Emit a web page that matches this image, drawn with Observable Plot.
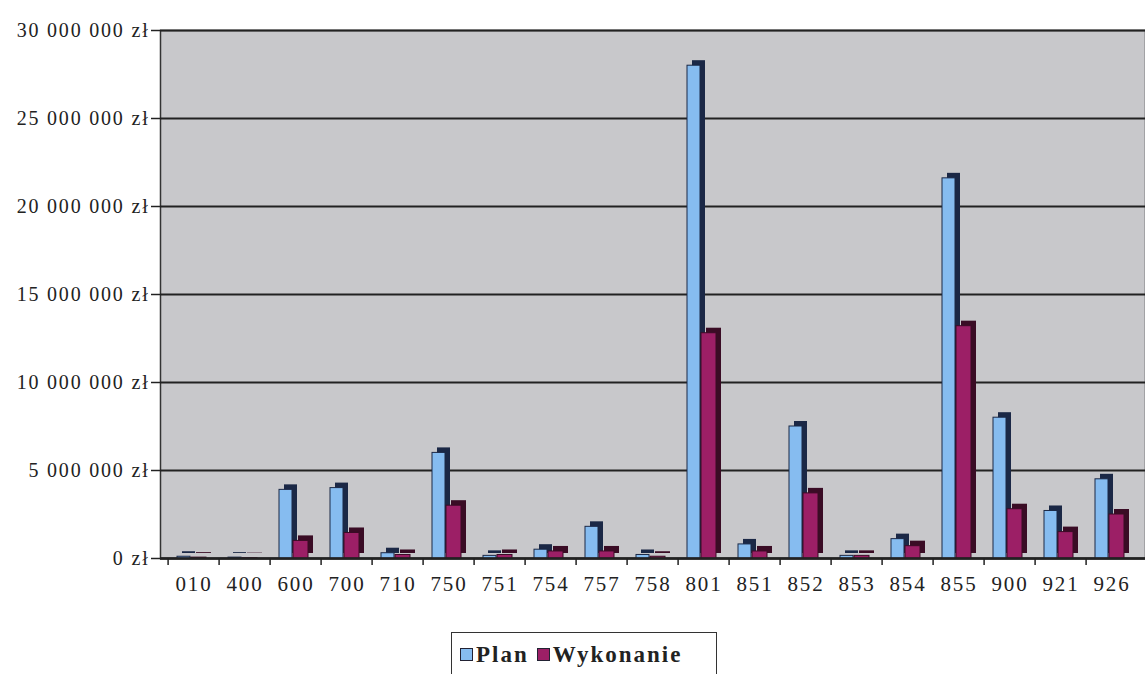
<!DOCTYPE html>
<html><head><meta charset="utf-8">
<script src="https://cdn.jsdelivr.net/npm/d3@7"></script>
<script src="https://cdn.jsdelivr.net/npm/@observablehq/plot@0.6"></script>
<style>
body{margin:0;background:#fff;font-family:"Liberation Serif",serif;}
#chart{position:absolute;left:0;top:0;}
#legend{position:absolute;left:451px;top:632px;width:266px;height:44px;border:1.5px solid #333;border-bottom:none;box-sizing:border-box;
  font-family:"Liberation Serif",serif;font-weight:bold;font-size:23px;letter-spacing:2px;color:#222;display:flex;align-items:center;padding-left:8px;}
.sw{display:inline-block;width:11px;height:11px;border:1.5px solid #223;margin-right:3px;}
.item{display:flex;align-items:center;margin-right:8px;}
</style></head><body>
<div id="chart"></div>
<div id="legend"><span class="item"><span class="sw" style="background:#86bcf0"></span>Plan</span><span class="item"><span class="sw" style="background:#9c1f66"></span>Wykonanie</span></div>
<script>
const codes = ["010","400","600","700","710","750","751","754","757","758","801","851","852","853","854","855","900","921","926"];
const planValues = [100000,50000,3900000,4000000,300000,6000000,150000,500000,1800000,200000,28000000,800000,7500000,150000,1100000,21600000,8000000,2700000,4500000];
const wykonanieValues = [50000,20000,1000000,1450000,200000,3000000,200000,400000,400000,100000,12800000,400000,3700000,150000,700000,13200000,2800000,1500000,2500000];
const yTicks = [0,5000000,10000000,15000000,20000000,25000000,30000000];

const planData = codes.map((c,i)=>({code:c, value:planValues[i]}));
const wykData = codes.map((c,i)=>({code:c, value:wykonanieValues[i]}));

const fmt = d3.formatLocale({thousands:" ", grouping:[3], decimal:",", currency:["",""]}).format(",");
const planFront = "#86bcf0", planSide = "#1b2846";
const wykFront = "#9c1f66", wykSide = "#3a0c25";

const chart = Plot.plot({
  width: 1145,
  height: 620,
  marginLeft: 160,
  marginRight: 0,
  marginTop: 30,
  marginBottom: 62,
  style: {fontFamily: "Liberation Serif, serif", background: "transparent", color: "#222"},
  x: {domain: codes, padding: 0, label: null},
  y: {domain: [0, 30000000], label: null},
  marks: [
    Plot.frame({fill: "#c8c8cb", stroke: "#333", strokeWidth: 1.5}),
    Plot.ruleY(yTicks, {stroke: "#222", strokeWidth: 2}),
    Plot.barY(planData, {x: "code", y: "value", fill: planSide, insetLeft: 9, insetRight: 29, dx: 5, dy: -5}),
    Plot.barY(planData, {x: "code", y: "value", fill: planFront, stroke: planSide, strokeWidth: 1, insetLeft: 9, insetRight: 29}),
    Plot.barY(wykData, {x: "code", y: "value", fill: wykSide, insetLeft: 23, insetRight: 13, dx: 5, dy: -5}),
    Plot.barY(wykData, {x: "code", y: "value", fill: wykFront, stroke: wykSide, strokeWidth: 1, insetLeft: 23, insetRight: 13}),
    Plot.ruleY([0], {stroke: "#222", strokeWidth: 2.5}),
    Plot.axisY(yTicks, {tickSize: 9, tickPadding: 2, fontSize: 20, tickFormat: d => fmt(d) + " zł", stroke: "#222", strokeWidth: 1.5}),
    Plot.axisX({tickSize: 7, dx: -25.9, tickFormat: () => "", stroke: "#222", strokeWidth: 1.5}),
    Plot.axisX({tickSize: 0, tickPadding: 18, fontSize: 21})
  ]
});
chart.querySelectorAll("text").forEach(t => t.style.letterSpacing = "1.8px");
document.getElementById("chart").appendChild(chart);
</script>
</body></html>
